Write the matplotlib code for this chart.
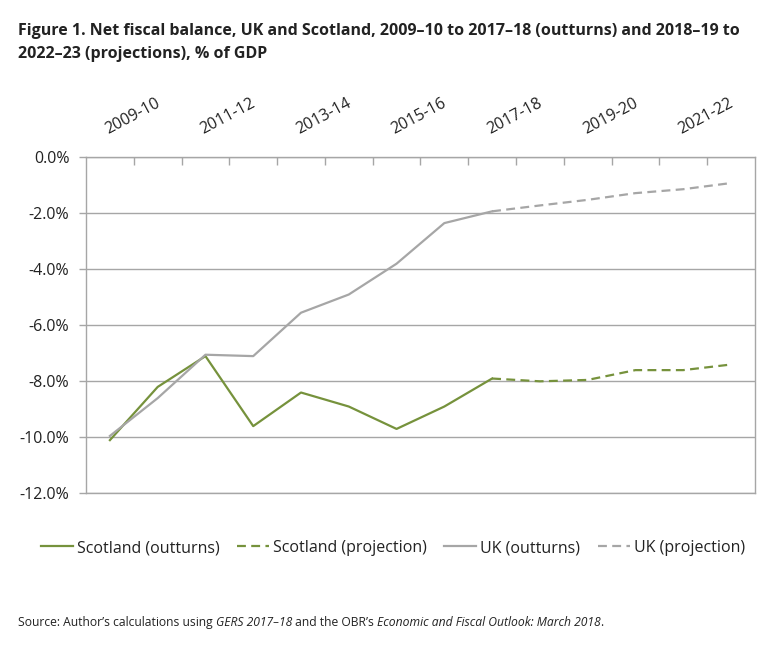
"""Net fiscal balance, UK and Scotland: outturns and projections."""

import matplotlib
matplotlib.use("Agg")
from matplotlib import pyplot as plt
from matplotlib.offsetbox import AnnotationBbox, HPacker, TextArea
from matplotlib.ticker import FixedLocator

years = ["2009-10", "2010-11", "2011-12", "2012-13", "2013-14", "2014-15", "2015-16",
         "2016-17", "2017-18", "2018-19", "2019-20", "2020-21", "2021-22", "2022-23"]

scotland_outturns = [-10.1, -8.2, -7.1, -9.6, -8.4, -8.9, -9.7, -8.9, -7.9]
scotland_projection = [-7.9, -8.0, -7.95, -7.6, -7.6, -7.4]
uk_outturns = [-9.95, -8.6, -7.05, -7.1, -5.55, -4.9, -3.8, -2.35, -1.93]
uk_projection = [-1.93, -1.72, -1.52, -1.28, -1.14, -0.92]

y_ticks = [0, -2, -4, -6, -8, -10, -12]

GREEN = "#76923c"
GREY = "#a6a6a6"
FONT = "Open Sans"

plt.rcParams["font.family"] = [FONT, "DejaVu Sans"]

figure = plt.figure(figsize=(7.75, 6.47), dpi=100)
axis = figure.add_axes([0.111, 0.2375, 0.863, 0.5194])

n_out = len(scotland_outturns)
x_out = list(range(n_out))
x_proj = list(range(n_out - 1, len(years)))

lw = 1.6
dash = (4, 2.4)
axis.plot(x_out, scotland_outturns, color=GREEN, linewidth=lw, label="Scotland (outturns)")
axis.plot(x_proj, scotland_projection, color=GREEN, linewidth=lw, dashes=dash,
          label="Scotland (projection)")
axis.plot(x_out, uk_outturns, color=GREY, linewidth=lw, label="UK (outturns)")
axis.plot(x_proj, uk_projection, color=GREY, linewidth=lw, dashes=dash,
          label="UK (projection)")

axis.set_xlim(-0.5, len(years) - 0.5)
axis.set_ylim(-12, 0)

# category axis sits at the top (the zero line)
axis.xaxis.set_ticks_position("top")
axis.xaxis.set_major_locator(FixedLocator(list(range(0, len(years), 2))))
axis.set_xticklabels(years[::2])
axis.xaxis.set_minor_locator(FixedLocator([k + 0.5 for k in range(len(years) - 1)]))
axis.tick_params(axis="x", which="major", length=0, pad=14, labelsize=11.5,
                 labelcolor="#222222")
axis.tick_params(axis="x", which="minor", direction="in", length=6, width=1, color=GREY)
for label in axis.get_xticklabels():
    label.set_rotation(28)
    label.set_ha("left")
    label.set_va("bottom")
    label.set_rotation_mode("anchor")

axis.set_yticks(y_ticks)
axis.set_yticklabels([f"{v:.1f}%" for v in y_ticks])
axis.tick_params(axis="y", direction="out", length=5, width=1, color=GREY, pad=7,
                 labelsize=11.5, labelcolor="#222222")
axis.yaxis.grid(True, color=GREY, linewidth=1)
axis.set_axisbelow(True)

for spine in axis.spines.values():
    spine.set_color(GREY)
    spine.set_linewidth(1)

figure.text(0.023, 0.965,
            "Figure 1. Net fiscal balance, UK and Scotland, 2009\u201310 to 2017\u201318 "
            "(outturns) and 2018\u201319 to\n2022\u201323 (projections), % of GDP",
            fontsize=11.5, fontweight="bold", color="#222222", va="top", linespacing=1.65)

figure.legend(loc="center", bbox_to_anchor=(0.507, 0.153), ncol=4, frameon=False,
              fontsize=11.5, handlelength=2.0, handletextpad=0.25, columnspacing=1.1,
              labelcolor="#222222")

# source note with italic titles
pieces = [
    ("Source: Author\u2019s calculations using ", "normal"),
    ("GERS 2017\u201318", "italic"),
    (" and the OBR\u2019s ", "normal"),
    ("Economic and Fiscal Outlook: March 2018", "italic"),
    (".", "normal"),
]
areas = [TextArea(text, textprops=dict(fontsize=8.7, style=style, color="#222222",
                                       family=[FONT, "DejaVu Sans"]))
         for text, style in pieces]
source = HPacker(children=areas, pad=0, sep=0, align="baseline")
figure.add_artist(AnnotationBbox(source, (0.023, 0.038), xycoords="figure fraction",
                                 box_alignment=(0, 0.5), frameon=False))

figure.savefig("out.png", dpi=100)
